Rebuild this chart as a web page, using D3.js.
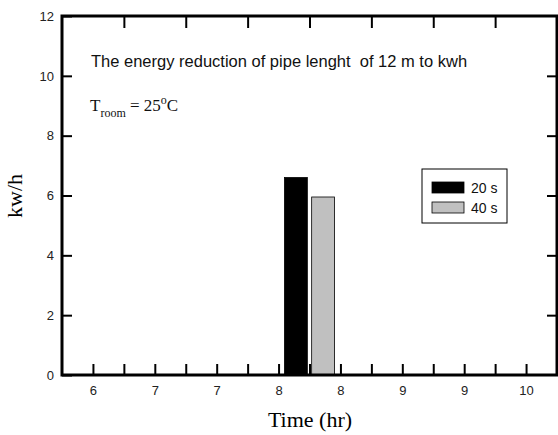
<!DOCTYPE html>
<html>
<head>
<meta charset="utf-8">
<script src="https://cdn.jsdelivr.net/npm/d3@7"></script>
<style>
  body { margin: 0; background: #fff; }
  svg { display: block; }
</style>
</head>
<body>
<div id="chart"></div>
<script>
// tick labels along the time axis, as printed in the figure
const tickLabels = ['6', '7', '7', '8', '8', '9', '9', '10'];
const yTicks = [0, 2, 4, 6, 8, 10, 12];

// one bar group, sitting between the 4th and 5th labelled tick
const groupPos = [3.5];
const seriesNames = ['20 s', '40 s'];
const seriesValues = [6.6, 5.95];
const seriesColors = ['#000000', '#c0c0c0'];

const size = { width: 558, height: 435 };
const margin = { top: 16, right: 1, bottom: 60, left: 62 };

const svg = d3.select('#chart').append('svg')
  .attr('width', size.width)
  .attr('height', size.height);

const x = d3.scaleLinear()
  .domain([-0.5, 7.5])
  .range([margin.left, size.width - margin.right]);

const y = d3.scaleLinear()
  .domain([0, 12])
  .range([size.height - margin.bottom, margin.top]);

// bars
const barW = 0.37;
const barOff = [-0.22, 0.22];
svg.append('g')
  .selectAll('rect')
  .data(seriesValues)
  .join('rect')
  .attr('x', (d, i) => x(groupPos[0] + barOff[i] - barW / 2))
  .attr('width', x(barW) - x(0))
  .attr('y', (d) => y(d))
  .attr('height', (d) => y(0) - y(d))
  .attr('fill', (d, i) => seriesColors[i])
  .attr('stroke', '#000')
  .attr('stroke-width', 0.8);

const tickStyle = (g) => {
  g.select('.domain').remove();
  g.selectAll('.tick line').attr('stroke', '#000').attr('stroke-width', 2);
  g.selectAll('.tick text')
    .attr('fill', '#222')
    .style('font-family', 'Liberation Sans, Arial, sans-serif')
    .style('font-size', '13px');
};

// bottom axis: labelled ticks + half ticks
const bottomTicks = d3.range(0, 7.5, 0.5);
svg.append('g')
  .attr('transform', `translate(0, ${y(0)})`)
  .call(d3.axisBottom(x)
    .tickValues(bottomTicks)
    .tickSize(-11)
    .tickPadding(11)
    .tickFormat((d) => (Number.isInteger(d) ? tickLabels[d] : '')))
  .call(tickStyle);

// top ticks only at the half positions
svg.append('g')
  .attr('transform', `translate(0, ${y(12)})`)
  .call(d3.axisTop(x)
    .tickValues(d3.range(0.5, 7, 1))
    .tickSize(-12)
    .tickFormat(''))
  .call(tickStyle);

svg.append('g')
  .attr('transform', `translate(${x(-0.5)}, 0)`)
  .call(d3.axisLeft(y)
    .tickValues(yTicks)
    .tickSize(-10)
    .tickPadding(8)
    .tickFormat(d3.format('d')))
  .call(tickStyle);

svg.append('g')
  .attr('transform', `translate(${x(7.5)}, 0)`)
  .call(d3.axisRight(y)
    .tickValues(yTicks.slice(1, -1))
    .tickSize(-10)
    .tickFormat(''))
  .call(tickStyle);

// frame
svg.append('rect')
  .attr('x', x(-0.5))
  .attr('y', y(12))
  .attr('width', x(7.5) - x(-0.5))
  .attr('height', y(0) - y(12))
  .attr('fill', 'none')
  .attr('stroke', '#000')
  .attr('stroke-width', 3);

// annotations
svg.append('text')
  .attr('x', 91)
  .attr('y', 67)
  .style('font-family', 'Liberation Sans, Arial, sans-serif')
  .style('font-size', '16.5px')
  .attr('fill', '#111')
  .attr('xml:space', 'preserve')
  .text('The energy reduction of pipe lenght  of 12 m to kwh');

const troom = svg.append('text')
  .attr('x', 90)
  .attr('y', 111)
  .style('font-family', 'Liberation Serif, Times New Roman, serif')
  .style('font-size', '17px')
  .attr('fill', '#111');
troom.append('tspan').text('T');
troom.append('tspan').attr('dy', 6).style('font-size', '12px').text('room');
troom.append('tspan').attr('dy', -6).text(' = 25');
troom.append('tspan').attr('dy', -7).style('font-size', '12px').text('o');
troom.append('tspan').attr('dy', 7).text('C');

// legend
const legend = svg.append('g').attr('transform', 'translate(422, 169)');
legend.append('rect')
  .attr('width', 85)
  .attr('height', 54)
  .attr('fill', '#fff')
  .attr('stroke', '#000')
  .attr('stroke-width', 1);
seriesNames.forEach((name, i) => {
  legend.append('rect')
    .attr('x', 10)
    .attr('y', 13 + i * 20)
    .attr('width', 32)
    .attr('height', 11)
    .attr('fill', seriesColors[i])
    .attr('stroke', '#000')
    .attr('stroke-width', 0.8);
  legend.append('text')
    .attr('x', 49)
    .attr('y', 24 + i * 20)
    .style('font-family', 'Liberation Sans, Arial, sans-serif')
    .style('font-size', '14px')
    .attr('fill', '#111')
    .text(name);
});

// axis titles
svg.append('text')
  .attr('x', 310)
  .attr('y', 427)
  .attr('text-anchor', 'middle')
  .style('font-family', 'Liberation Serif, Times New Roman, serif')
  .style('font-size', '22px')
  .text('Time (hr)');

svg.append('text')
  .attr('transform', 'translate(22, 196) rotate(-90)')
  .attr('text-anchor', 'middle')
  .style('font-family', 'Liberation Serif, Times New Roman, serif')
  .style('font-size', '22px')
  .text('kw/h');
</script>
</body>
</html>
